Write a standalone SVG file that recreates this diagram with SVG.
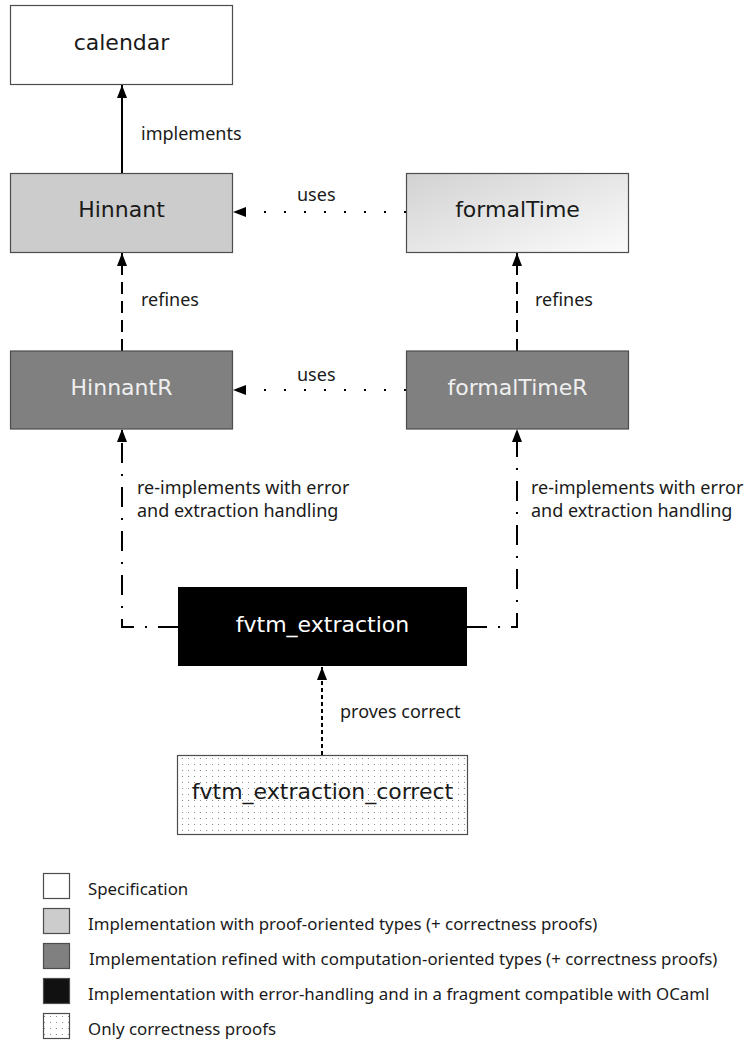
<svg xmlns="http://www.w3.org/2000/svg" width="750" height="1041" viewBox="0 0 750 1041">
<style>
.box{stroke:#4d4d4d;stroke-width:1.2}
.nl{font-family:"DejaVu Sans","Noto Sans",sans-serif;font-size:22px;text-anchor:middle;fill:#1a1a1a}
.lbl{font-family:"Noto Sans","Open Sans",sans-serif;font-size:18px;fill:#1a1a1a}
.leg{font-family:"Noto Sans","Open Sans",sans-serif;font-size:16.85px;fill:#1a1a1a}
.c{fill:none;stroke:#000;stroke-width:2}
</style>
<defs>
<marker id="ah" markerUnits="userSpaceOnUse" markerWidth="14" markerHeight="12" refX="13" refY="5" orient="auto"><path d="M0,0 L13,5 L0,10 z" fill="#000"/></marker>
<linearGradient id="gft" x1="0" y1="0" x2="1" y2="1"><stop offset="0" stop-color="#d2d2d2"/><stop offset="1" stop-color="#fbfbfb"/></linearGradient>
<pattern id="dots" patternUnits="userSpaceOnUse" width="6" height="6"><rect width="6" height="6" fill="#fff"/><rect x="2" y="2" width="1" height="1" fill="#8a8a8a"/></pattern>
</defs>
<g id="connectors">
<line class="c" x1="122" y1="173" x2="122" y2="85" marker-end="url(#ah)"/>
<text class="lbl" x="141" y="140">implements</text>
<line class="c" x1="406" y1="212" x2="233" y2="212" stroke-dasharray="2 18" marker-end="url(#ah)"/>
<text class="lbl" x="297" y="201">uses</text>
<line class="c" x1="122" y1="351" x2="122" y2="253" stroke-dasharray="12 7" marker-end="url(#ah)"/>
<text class="lbl" x="141" y="306">refines</text>
<line class="c" x1="517" y1="351" x2="517" y2="253" stroke-dasharray="12 7" marker-end="url(#ah)"/>
<text class="lbl" x="535" y="306">refines</text>
<line class="c" x1="406" y1="390" x2="233" y2="390" stroke-dasharray="2 18" marker-end="url(#ah)"/>
<text class="lbl" x="297" y="381">uses</text>
<path class="c" d="M178,627 H122 V429" stroke-dasharray="20 11 2 11" marker-end="url(#ah)"/>
<text class="lbl" x="137" y="494">re-implements with error</text>
<text class="lbl" x="137" y="517">and extraction handling</text>
<path class="c" d="M467,627 H517 V429" stroke-dasharray="20 11 2 11" marker-end="url(#ah)"/>
<text class="lbl" x="531" y="494">re-implements with error</text>
<text class="lbl" x="531" y="517">and extraction handling</text>
<line class="c" x1="322" y1="755" x2="322" y2="667" stroke-dasharray="4 3" marker-end="url(#ah)"/>
<text class="lbl" x="340" y="718">proves correct</text>
</g>
<g id="calendar"><rect class="box" x="10.5" y="5.5" width="222" height="79" fill="#fff"/><text class="nl" x="121.5" y="50">calendar</text></g>
<g id="Hinnant"><rect class="box" x="10.5" y="173.5" width="222" height="79" fill="#cccccc"/><text class="nl" x="121.5" y="217">Hinnant</text></g>
<g id="formalTime"><rect class="box" x="406.5" y="173.5" width="222" height="79" fill="url(#gft)"/><text class="nl" x="517.5" y="217">formalTime</text></g>
<g id="HinnantR"><rect class="box" x="10.5" y="351" width="222" height="78" fill="#808080"/><text class="nl" x="121.5" y="395" style="fill:#efefef">HinnantR</text></g>
<g id="formalTimeR"><rect class="box" x="406.5" y="351" width="222" height="78" fill="#808080"/><text class="nl" x="517.5" y="395" style="fill:#efefef">formalTimeR</text></g>
<g id="fvtm_extraction"><rect x="178" y="587" width="289" height="79" fill="#000"/><text class="nl" x="322.5" y="632" style="fill:#fff">fvtm_extraction</text></g>
<g id="fvtm_extraction_correct"><rect class="box" x="177.5" y="755.5" width="290" height="79" fill="url(#dots)"/><text class="nl" x="322.5" y="799">fvtm_extraction_correct</text></g>
<g id="legend">
<rect class="box" x="43.5" y="873.5" width="26" height="25" fill="#fff"/>
<text class="leg" x="88" y="895">Specification</text>
<rect class="box" x="43.5" y="908.5" width="26" height="25" fill="#cccccc"/>
<text class="leg" x="88" y="930">Implementation with proof-oriented types (+ correctness proofs)</text>
<rect class="box" x="43.5" y="943.5" width="26" height="25" fill="#808080"/>
<text class="leg" x="89" y="965">Implementation refined with computation-oriented types (+ correctness proofs)</text>
<rect class="box" x="43.5" y="978.5" width="26" height="25" fill="#111"/>
<text class="leg" x="88" y="1000">Implementation with error-handling and in a fragment compatible with OCaml</text>
<rect class="box" x="43.5" y="1013.5" width="26" height="25" fill="url(#dots)"/>
<text class="leg" x="88" y="1035">Only correctness proofs</text>
</g>
</svg>
